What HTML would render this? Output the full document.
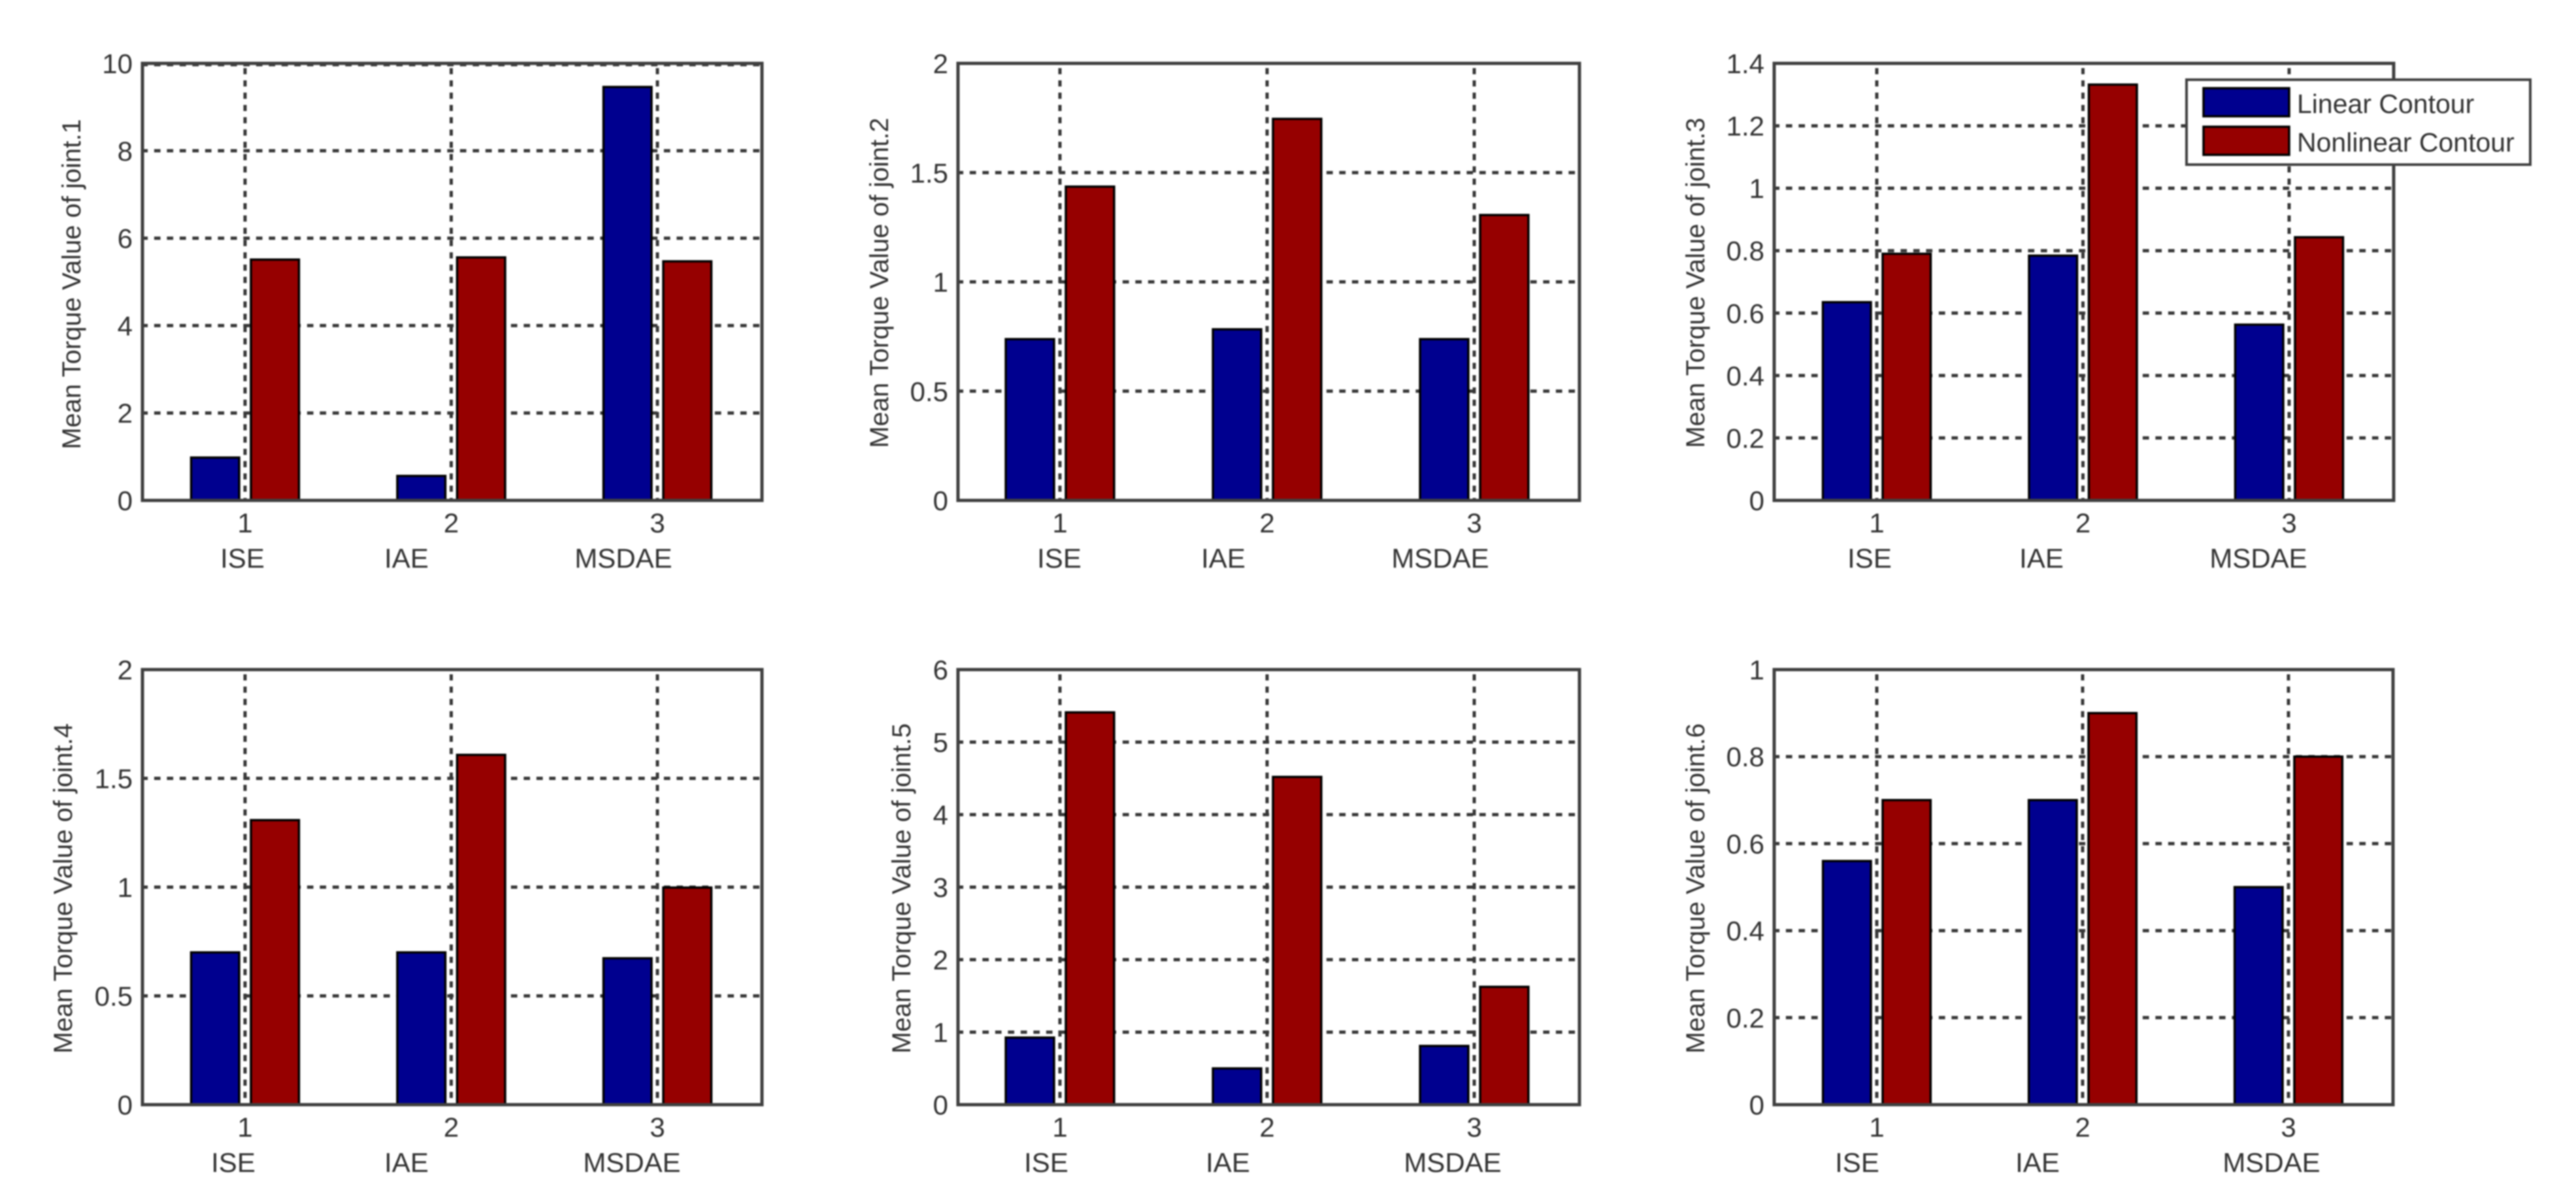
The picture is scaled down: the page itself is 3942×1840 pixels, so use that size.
<!DOCTYPE html>
<html lang="en">
<head>
<meta charset="utf-8">
<title>Mean Torque Value of joints</title>
<style>
html,body{margin:0;padding:0;background:#fff;width:3942px;height:1840px;overflow:hidden}
svg{display:block;filter:blur(1px)}
text{font-family:"Liberation Sans",sans-serif;fill:#333}
</style>
</head>
<body>
<svg id="figure" xmlns="http://www.w3.org/2000/svg" width="3942" height="1840" viewBox="0 0 3942 1840">
<rect x="0" y="0" width="3942" height="1840" fill="#fff"/>
</svg>
<script>
const categories = [1, 2, 3];
const methodLabels = ['ISE', 'IAE', 'MSDAE'];
const seriesNames = ['Linear Contour', 'Nonlinear Contour'];

const joint1Linear = [0.98, 0.56, 9.46];
const joint1Nonlinear = [5.51, 5.56, 5.47];
const joint1Ticks = ['0', '2', '4', '6', '8', '10'];

const joint2Linear = [0.738, 0.783, 0.738];
const joint2Nonlinear = [1.436, 1.746, 1.306];
const joint2Ticks = ['0', '0.5', '1', '1.5', '2'];

const joint3Linear = [0.635, 0.784, 0.563];
const joint3Nonlinear = [0.79, 1.332, 0.843];
const joint3Ticks = ['0', '0.2', '0.4', '0.6', '0.8', '1', '1.2', '1.4'];

const joint4Linear = [0.7, 0.7, 0.673];
const joint4Nonlinear = [1.308, 1.608, 0.998];
const joint4Ticks = ['0', '0.5', '1', '1.5', '2'];

const joint5Linear = [0.925, 0.5, 0.81];
const joint5Nonlinear = [5.41, 4.52, 1.625];
const joint5Ticks = ['0', '1', '2', '3', '4', '5', '6'];

const joint6Linear = [0.56, 0.7, 0.5];
const joint6Nonlinear = [0.7, 0.9, 0.8];
const joint6Ticks = ['0', '0.2', '0.4', '0.6', '0.8', '1'];

const panels = [
  {id: 1, linear: joint1Linear, nonlinear: joint1Nonlinear, ticks: joint1Ticks, box: {l: 218, r: 1166, t: 97, b: 766, x1: 375, dx: 315.5}, labelX: 123, labelY: 435, methodX: [371, 622, 954], topGrid: true},
  {id: 2, linear: joint2Linear, nonlinear: joint2Nonlinear, ticks: joint2Ticks, box: {l: 1466, r: 2417, t: 97, b: 766, x1: 1622, dx: 317}, labelX: 1359, labelY: 433, methodX: [1621, 1872, 2204], topGrid: false},
  {id: 3, linear: joint3Linear, nonlinear: joint3Nonlinear, ticks: joint3Ticks, box: {l: 2715, r: 3663, t: 97, b: 766, x1: 2872, dx: 315.5}, labelX: 2608, labelY: 433, methodX: [2861, 3124, 3456], topGrid: false},
  {id: 4, linear: joint4Linear, nonlinear: joint4Nonlinear, ticks: joint4Ticks, box: {l: 218, r: 1166, t: 1025, b: 1691, x1: 375, dx: 315.5}, labelX: 110, labelY: 1360, methodX: [357, 622, 967], topGrid: false},
  {id: 5, linear: joint5Linear, nonlinear: joint5Nonlinear, ticks: joint5Ticks, box: {l: 1466, r: 2417, t: 1025, b: 1691, x1: 1622, dx: 317}, labelX: 1393, labelY: 1360, methodX: [1601, 1879, 2223], topGrid: false},
  {id: 6, linear: joint6Linear, nonlinear: joint6Nonlinear, ticks: joint6Ticks, box: {l: 2715, r: 3662, t: 1025, b: 1691, x1: 2872, dx: 315}, labelX: 2608, labelY: 1360, methodX: [2842, 3118, 3476], topGrid: false}
];

const svg = document.getElementById('figure');
const NS = 'http://www.w3.org/2000/svg';
const BLUE = '#00008f';
const RED = '#960000';
const AXIS = '#404040';
const GRID = '#383838';
const BAR_INNER = 0.0285;
const BAR_OUTER = 0.2615;

function make(tag, attrs, parent) {
  const el = document.createElementNS(NS, tag);
  for (const k in attrs) el.setAttribute(k, attrs[k]);
  parent.appendChild(el);
  return el;
}

panels.forEach(function (p) {
  const g = make('g', {}, svg);
  
  

  const b = p.box;
  const tickVals = p.ticks.map(Number);
  const yMax = tickVals[tickVals.length - 1];
  const xScale = function (v) { return b.x1 + (v - 1) * b.dx; };
  const yScale = function (v) { return b.b - v / yMax * (b.b - b.t); };

  // horizontal grid and y tick labels
  p.ticks.forEach(function (label, i) {
    const v = tickVals[i];
    const y = yScale(v);
    if (v > 0 && (v < yMax || p.topGrid)) {
      const line = make('line', {x1: b.l, x2: b.r, y1: y + (v === yMax ? 2 : 0), y2: y + (v === yMax ? 2 : 0), stroke: GRID, 'stroke-width': 5, 'stroke-dasharray': '9.7 9.8', 'stroke-dashoffset': 1.6}, g);
      
      
    }
    const t = make('text', {x: b.l - 15, y: y + 15, 'text-anchor': 'end', 'font-size': 42}, g);
    t.textContent = label;
    
    
  });

  // vertical grid, x tick labels, method labels
  categories.forEach(function (c, i) {
    const x = xScale(c);
    const line = make('line', {x1: x, x2: x, y1: b.t, y2: b.b, stroke: GRID, 'stroke-width': 5, 'stroke-dasharray': '9.4 9.4', 'stroke-dashoffset': 11.6}, g);
    
    

    const t = make('text', {x: x, y: b.b + 49, 'text-anchor': 'middle', 'font-size': 42}, g);
    t.textContent = String(c);
    
    

    const m = make('text', {x: p.methodX[i], y: b.b + 103, 'text-anchor': 'middle', 'font-size': 42}, g);
    m.textContent = methodLabels[i];
    
    
  });

  // bars
  categories.forEach(function (c, i) {
    const x0 = xScale(c - BAR_OUTER);
    const x1 = xScale(c - BAR_INNER);
    const yL = yScale(p.linear[i]);
    const barL = make('rect', {x: x0, y: yL, width: x1 - x0, height: yScale(0) - yL, fill: BLUE, stroke: '#000', 'stroke-width': 3.5}, g);
    
    

    const x2 = xScale(c + BAR_INNER);
    const x3 = xScale(c + BAR_OUTER);
    const yN = yScale(p.nonlinear[i]);
    const barN = make('rect', {x: x2, y: yN, width: x3 - x2, height: yScale(0) - yN, fill: RED, stroke: '#000', 'stroke-width': 3.5}, g);
    
    
  });

  // axes box
  const frame = make('rect', {x: b.l, y: b.t, width: b.r - b.l, height: b.b - b.t, fill: 'none', stroke: AXIS, 'stroke-width': 5}, g);
  
  

  // y axis title
  const title = make('text', {x: 0, y: 0, 'text-anchor': 'middle', 'font-size': 40, transform: 'translate(' + p.labelX + ' ' + p.labelY + ') rotate(-90)'}, g);
  title.textContent = 'Mean Torque Value of joint.' + p.id;
  
  
});

// legend
const legend = make('g', {}, svg);



const legendBox = make('rect', {x: 3346, y: 122, width: 526, height: 130, fill: '#fff', stroke: '#404040', 'stroke-width': 4}, legend);



const swatchTops = {0: 135, 1: 194};
const swatchColors = [BLUE, RED];
seriesNames.forEach(function (name, i) {
  const s = make('rect', {x: 3372, y: swatchTops[i], width: 131, height: 43, fill: swatchColors[i], stroke: '#000', 'stroke-width': 3.5}, legend);
  
  

  const t = make('text', {x: 3515, y: swatchTops[i] + 38, 'font-size': 41}, legend);
  t.textContent = name;
  
  
});
</script>
</body>
</html>
